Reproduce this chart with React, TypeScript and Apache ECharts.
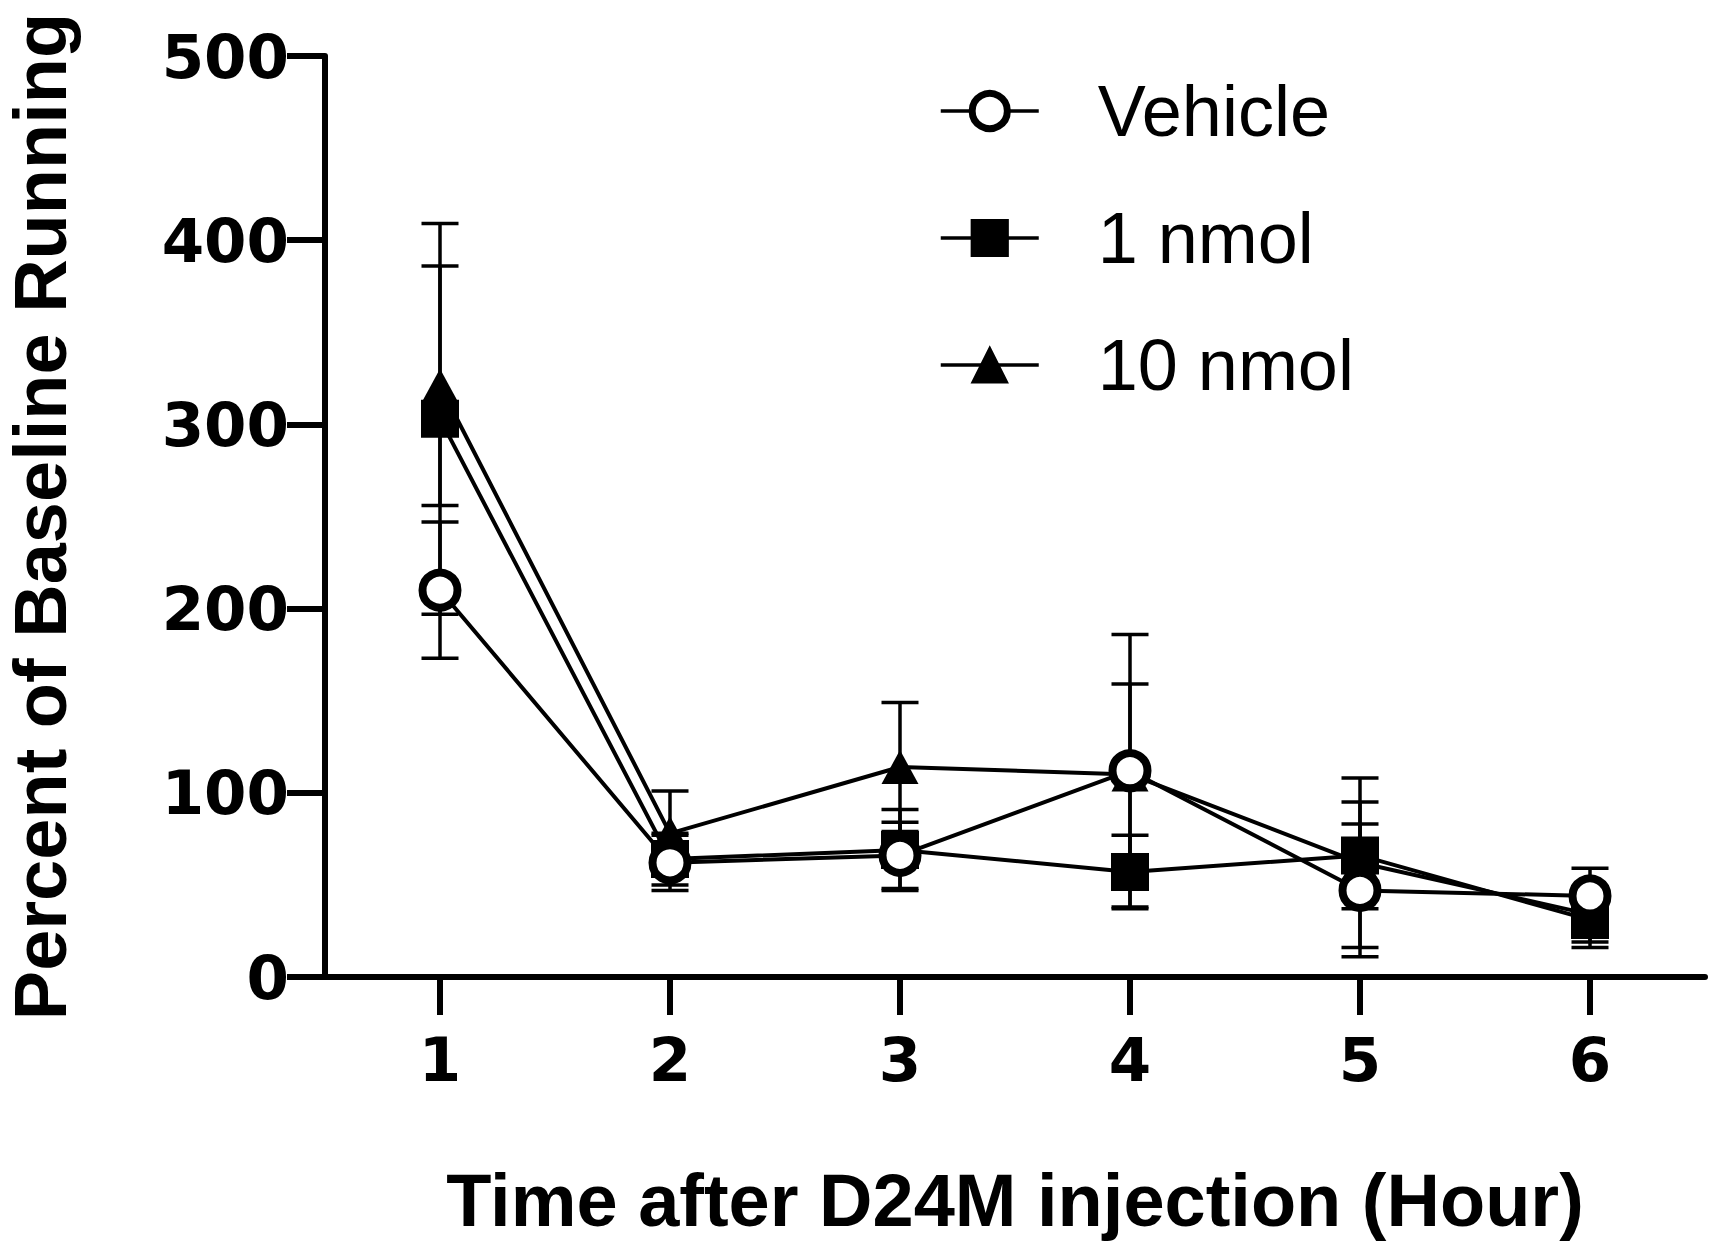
import React, { useEffect, useRef } from "react";
import * as echarts from "echarts";

const hours = [1, 2, 3, 4, 5, 6];
const seriesNames = ["Vehicle", "1 nmol", "10 nmol"];
const vehicle = [210, 62, 66, 112, 47, 44];
const vehicleErr = [37, 15, 18, 74, 36, 15];
const nmol1 = [303, 64, 69, 57, 66, 31];
const nmol1Err = [106, 14, 22, 20, 29, 15];
const nmol10 = [321, 78, 114, 110, 62, 34];
const nmol10Err = [65, 23, 35, 49, 46, 15];
const yTicks = [0, 100, 200, 300, 400, 500];

const FONT = "'Liberation Sans', Arial, Helvetica, sans-serif";
const TICK_FONT = "'DejaVu Sans', 'Liberation Sans', Arial, sans-serif";

function errData(vals: number[], errs: number[]) {
  return hours.map((h, i) => [h, vals[i] - errs[i], vals[i] + errs[i]]);
}

function errSeries(name: string, vals: number[], errs: number[]) {
  return {
    name,
    type: "custom",
    z: 1,
    silent: true,
    data: errData(vals, errs),
    renderItem: (params: any, api: any) => {
      const x = api.value(0);
      const lo = api.coord([x, api.value(1)]);
      const hi = api.coord([x, api.value(2)]);
      const hw = 18.5;
      const style = { stroke: "#000", lineWidth: 3.5, fill: "none" };
      return {
        type: "group",
        children: [
          { type: "line", shape: { x1: lo[0], y1: lo[1], x2: hi[0], y2: hi[1] }, style },
          { type: "line", shape: { x1: lo[0] - hw, y1: lo[1], x2: lo[0] + hw, y2: lo[1] }, style },
          { type: "line", shape: { x1: hi[0] - hw, y1: hi[1], x2: hi[0] + hw, y2: hi[1] }, style },
        ],
      };
    },
  };
}

function lineSeries(name: string, vals: number[], symbol: string, size: any, itemStyle: any) {
  return {
    name,
    type: "line",
    z: 2,
    data: hours.map((h, i) => [h, vals[i]]),
    symbol,
    symbolSize: size,
    showAllSymbol: true,
    itemStyle,
    lineStyle: { color: "#000", width: 4 },
    emphasis: { disabled: true },
  };
}

export default function App() {
  const ref = useRef<HTMLDivElement>(null);
  useEffect(() => {
    if (!ref.current) return;
    const chart = echarts.init(ref.current, undefined, { renderer: "svg" });
    chart.setOption({
      animation: false,
      backgroundColor: "#fff",
      grid: { left: 325, right: 16, top: 56, bottom: 279, containLabel: false, outerBoundsMode: "none" },
      legend: {
        data: [
          { name: seriesNames[0], itemStyle: { borderWidth: 7, borderColor: "#000", color: "#fff" } },
          { name: seriesNames[1], itemStyle: { borderWidth: 3, borderColor: "#000", color: "#000" } },
          { name: seriesNames[2], itemStyle: { borderWidth: 2, borderColor: "#000", color: "#000" } },
        ],
        orient: "vertical",
        left: 934,
        top: 70,
        itemWidth: 98,
        itemHeight: 44,
        itemGap: 55,
        selectedMode: false,
        lineStyle: { width: 3.5, color: "#000" },
        textStyle: { fontSize: 72, fontFamily: FONT, color: "#000", padding: [0, 0, 0, 54] },
      },
      xAxis: {
        type: "value",
        min: 0.5,
        max: 6.5,
        name: "Time after D24M injection (Hour)",
        nameLocation: "middle",
        nameGap: 186,
        nameTextStyle: { fontSize: 74, fontWeight: "bold", fontFamily: FONT, color: "#000" },
        axisLine: { show: true, onZero: false, lineStyle: { color: "#000", width: 6 } },
        axisTick: { show: true, length: 38, customValues: hours, lineStyle: { color: "#000", width: 6 } },
        axisLabel: {
          customValues: hours,
          margin: 52,
          fontSize: 61,
          fontWeight: "bold",
          fontFamily: TICK_FONT,
          color: "#000",
        },
        splitLine: { show: false },
      },
      yAxis: {
        type: "value",
        min: 0,
        max: 500,
        interval: 100,
        name: "Percent of Baseline Running",
        nameLocation: "middle",
        nameGap: 248,
        nameTextStyle: { fontSize: 74, fontWeight: "bold", fontFamily: FONT, color: "#000" },
        axisLine: { show: true, onZero: false, lineStyle: { color: "#000", width: 6 } },
        axisTick: { show: true, length: 38, customValues: yTicks, lineStyle: { color: "#000", width: 6 } },
        axisLabel: {
          customValues: yTicks,
          margin: 36,
          fontSize: 61,
          fontWeight: "bold",
          fontFamily: TICK_FONT,
          color: "#000",
        },
        splitLine: { show: false },
      },
      series: [
        errSeries("10 nmol SEM", nmol10, nmol10Err),
        errSeries("1 nmol SEM", nmol1, nmol1Err),
        errSeries("Vehicle SEM", vehicle, vehicleErr),
        lineSeries("10 nmol", nmol10, "triangle", [37, 34], { color: "#000" }),
        lineSeries("1 nmol", nmol1, "rect", 38, { color: "#000" }),
        lineSeries("Vehicle", vehicle, "circle", 35, { color: "#fff", borderColor: "#000", borderWidth: 8 }),
      ],
    });
    return () => chart.dispose();
  }, []);
  return (
    <div
      ref={ref}
      style={{ position: "fixed", left: 0, top: 0, width: 1721, height: 1256, background: "#fff" }}
    />
  );
}
